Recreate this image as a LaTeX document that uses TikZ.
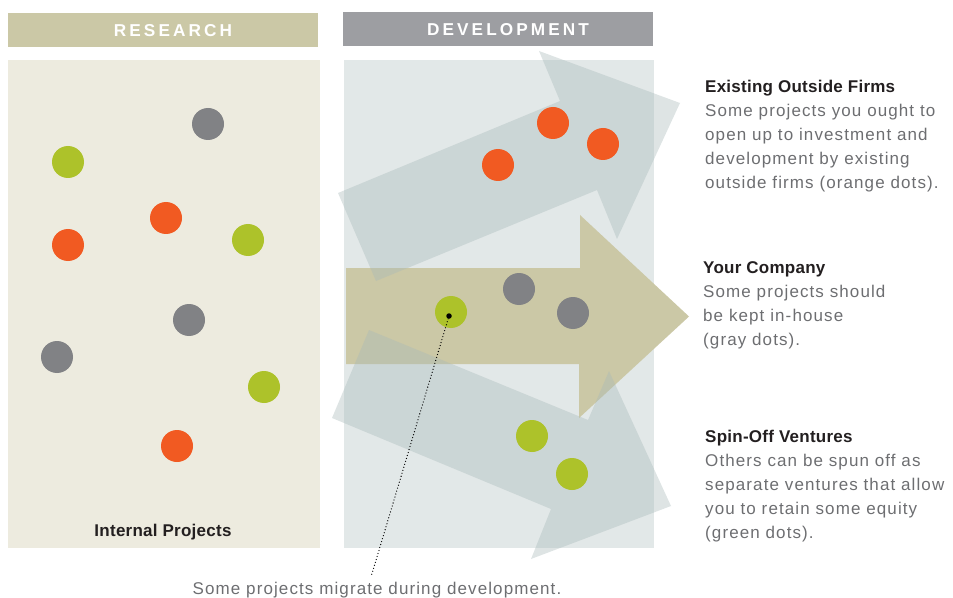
\documentclass[tikz,border=0pt]{standalone}
\usepackage{fontspec}
\setmainfont{Liberation Sans}
\newfontfamily\bodyfont{Liberation Sans}[LetterSpace=6.5]
\newfontfamily\headfont{Liberation Sans}[LetterSpace=1.5]
\newfontfamily\capsfont{Liberation Sans}[LetterSpace=18]
\usetikzlibrary{shapes,arrows,positioning}

\definecolor{khaki}{HTML}{CBC8A6}
\definecolor{headgray}{HTML}{9D9EA2}
\definecolor{researchbg}{HTML}{EDEBDF}
\definecolor{devbg}{HTML}{E2E8E8}
\definecolor{flowgray}{HTML}{A8B9B9}
\definecolor{dotorange}{HTML}{F15A22}
\definecolor{dotgreen}{HTML}{ADC22A}
\definecolor{dotgray}{HTML}{818285}
\definecolor{ink}{HTML}{231F20}
\definecolor{notegray}{HTML}{6D6E71}

\begin{document}
\begin{tikzpicture}[x=1bp,y=-1bp]

        % 样式
        \tikzstyle{project} = [circle, minimum size=32bp, inner sep=0pt]
        \tikzstyle{outside} = [project, fill=dotorange]
        \tikzstyle{inhouse} = [project, fill=dotgray]
        \tikzstyle{spinoff} = [project, fill=dotgreen]
        \tikzstyle{caps} = [text=white, inner sep=0pt, font=\capsfont\bfseries\fontsize{17.2bp}{20bp}\selectfont]
        \tikzstyle{note} = [align=left, anchor=north west, inner sep=0pt, text=notegray, font=\bodyfont\fontsize{17bp}{24bp}\selectfont]
        \tikzstyle{flow} = [fill=flowgray, fill opacity=0.38]
        \tikzstyle{migrate} = [line width=1.3bp, line cap=round, dash pattern=on 0bp off 3.1bp, draw=black]

        \useasboundingbox (0,0) rectangle (953,598);

        % 标题栏
        \fill [khaki] (8,13.3) rectangle (318,46.7);
        \fill [headgray] (343,11.7) rectangle (653,45.7);
        \node (research) [caps] at (173,31) {RESEARCH};
        \node (development) [caps] at (508,29.5) {DEVELOPMENT};

        % 面板
        \fill [researchbg] (8,60) rectangle (320,548);
        \fill [devbg] (344,60) rectangle (654,548);

        % 箭头
        \fill [khaki] (346,268) -- (580,268) -- (580,215) -- (689,316.5) -- (579,418) -- (579,364) -- (346,364) -- cycle;
        \fill [flow] (338,193) -- (560,101) -- (539,51) -- (680,103) -- (617,239) -- (597,190) -- (376,281) -- cycle;
        \fill [flow] (369,330) -- (588,420) -- (609,371) -- (671,506) -- (531,559) -- (551,509) -- (332,418) -- cycle;

        % 研究阶段的项目
        \node (r1) [inhouse] at (208,124) {};
        \node (r2) [spinoff] at (68,162) {};
        \node (r3) [outside] at (166,218) {};
        \node (r4) [outside] at (68,245) {};
        \node (r5) [spinoff] at (248,240) {};
        \node (r6) [inhouse] at (189,320) {};
        \node (r7) [inhouse] at (57,357) {};
        \node (r8) [spinoff] at (264,387) {};
        \node (r9) [outside] at (177,446) {};

        % 开发阶段的项目
        \node (d1) [outside] at (553,123) {};
        \node (d2) [outside] at (603,144) {};
        \node (d3) [outside] at (498,165) {};
        \node (d4) [inhouse] at (519,289) {};
        \node (d5) [inhouse] at (573,313) {};
        \node (d6) [spinoff] at (451,312) {};
        \node (d7) [spinoff] at (532,436) {};
        \node (d8) [spinoff] at (572,474) {};

        % 文字
        \node (internal) [anchor=base, inner sep=0pt, text=ink, font=\headfont\bfseries\fontsize{17bp}{20bp}\selectfont] at (163,536.5) {Internal Projects};
        \node (firms) [note] at (705,80.3) {{\headfont\bfseries\color{ink}Existing Outside Firms}\\Some projects you ought to\\open up to investment and\\development by existing\\outside firms (orange dots).};
        \node (company) [note] at (703,261.3) {{\headfont\bfseries\color{ink}Your Company}\\Some projects should\\be kept in-house\\(gray dots).};
        \node (ventures) [note] at (705,429.8) {{\headfont\bfseries\color{ink}Spin-Off Ventures}\\Others can be spun off as\\separate ventures that allow\\you to retain some equity\\(green dots).};
        \node (caption) [anchor=base, inner sep=0pt, text=notegray, font=\bodyfont\fontsize{17bp}{20bp}\selectfont] at (377,594.3) {Some projects migrate during development.};

        % 迁移说明
        \node (pin) [circle, fill=black, minimum size=5.5bp, inner sep=0pt] at (449,316) {};
        \coordinate (captiontop) at (371,577);
        \draw [migrate] (pin) -- (captiontop);

    \end{tikzpicture}
\end{document}
